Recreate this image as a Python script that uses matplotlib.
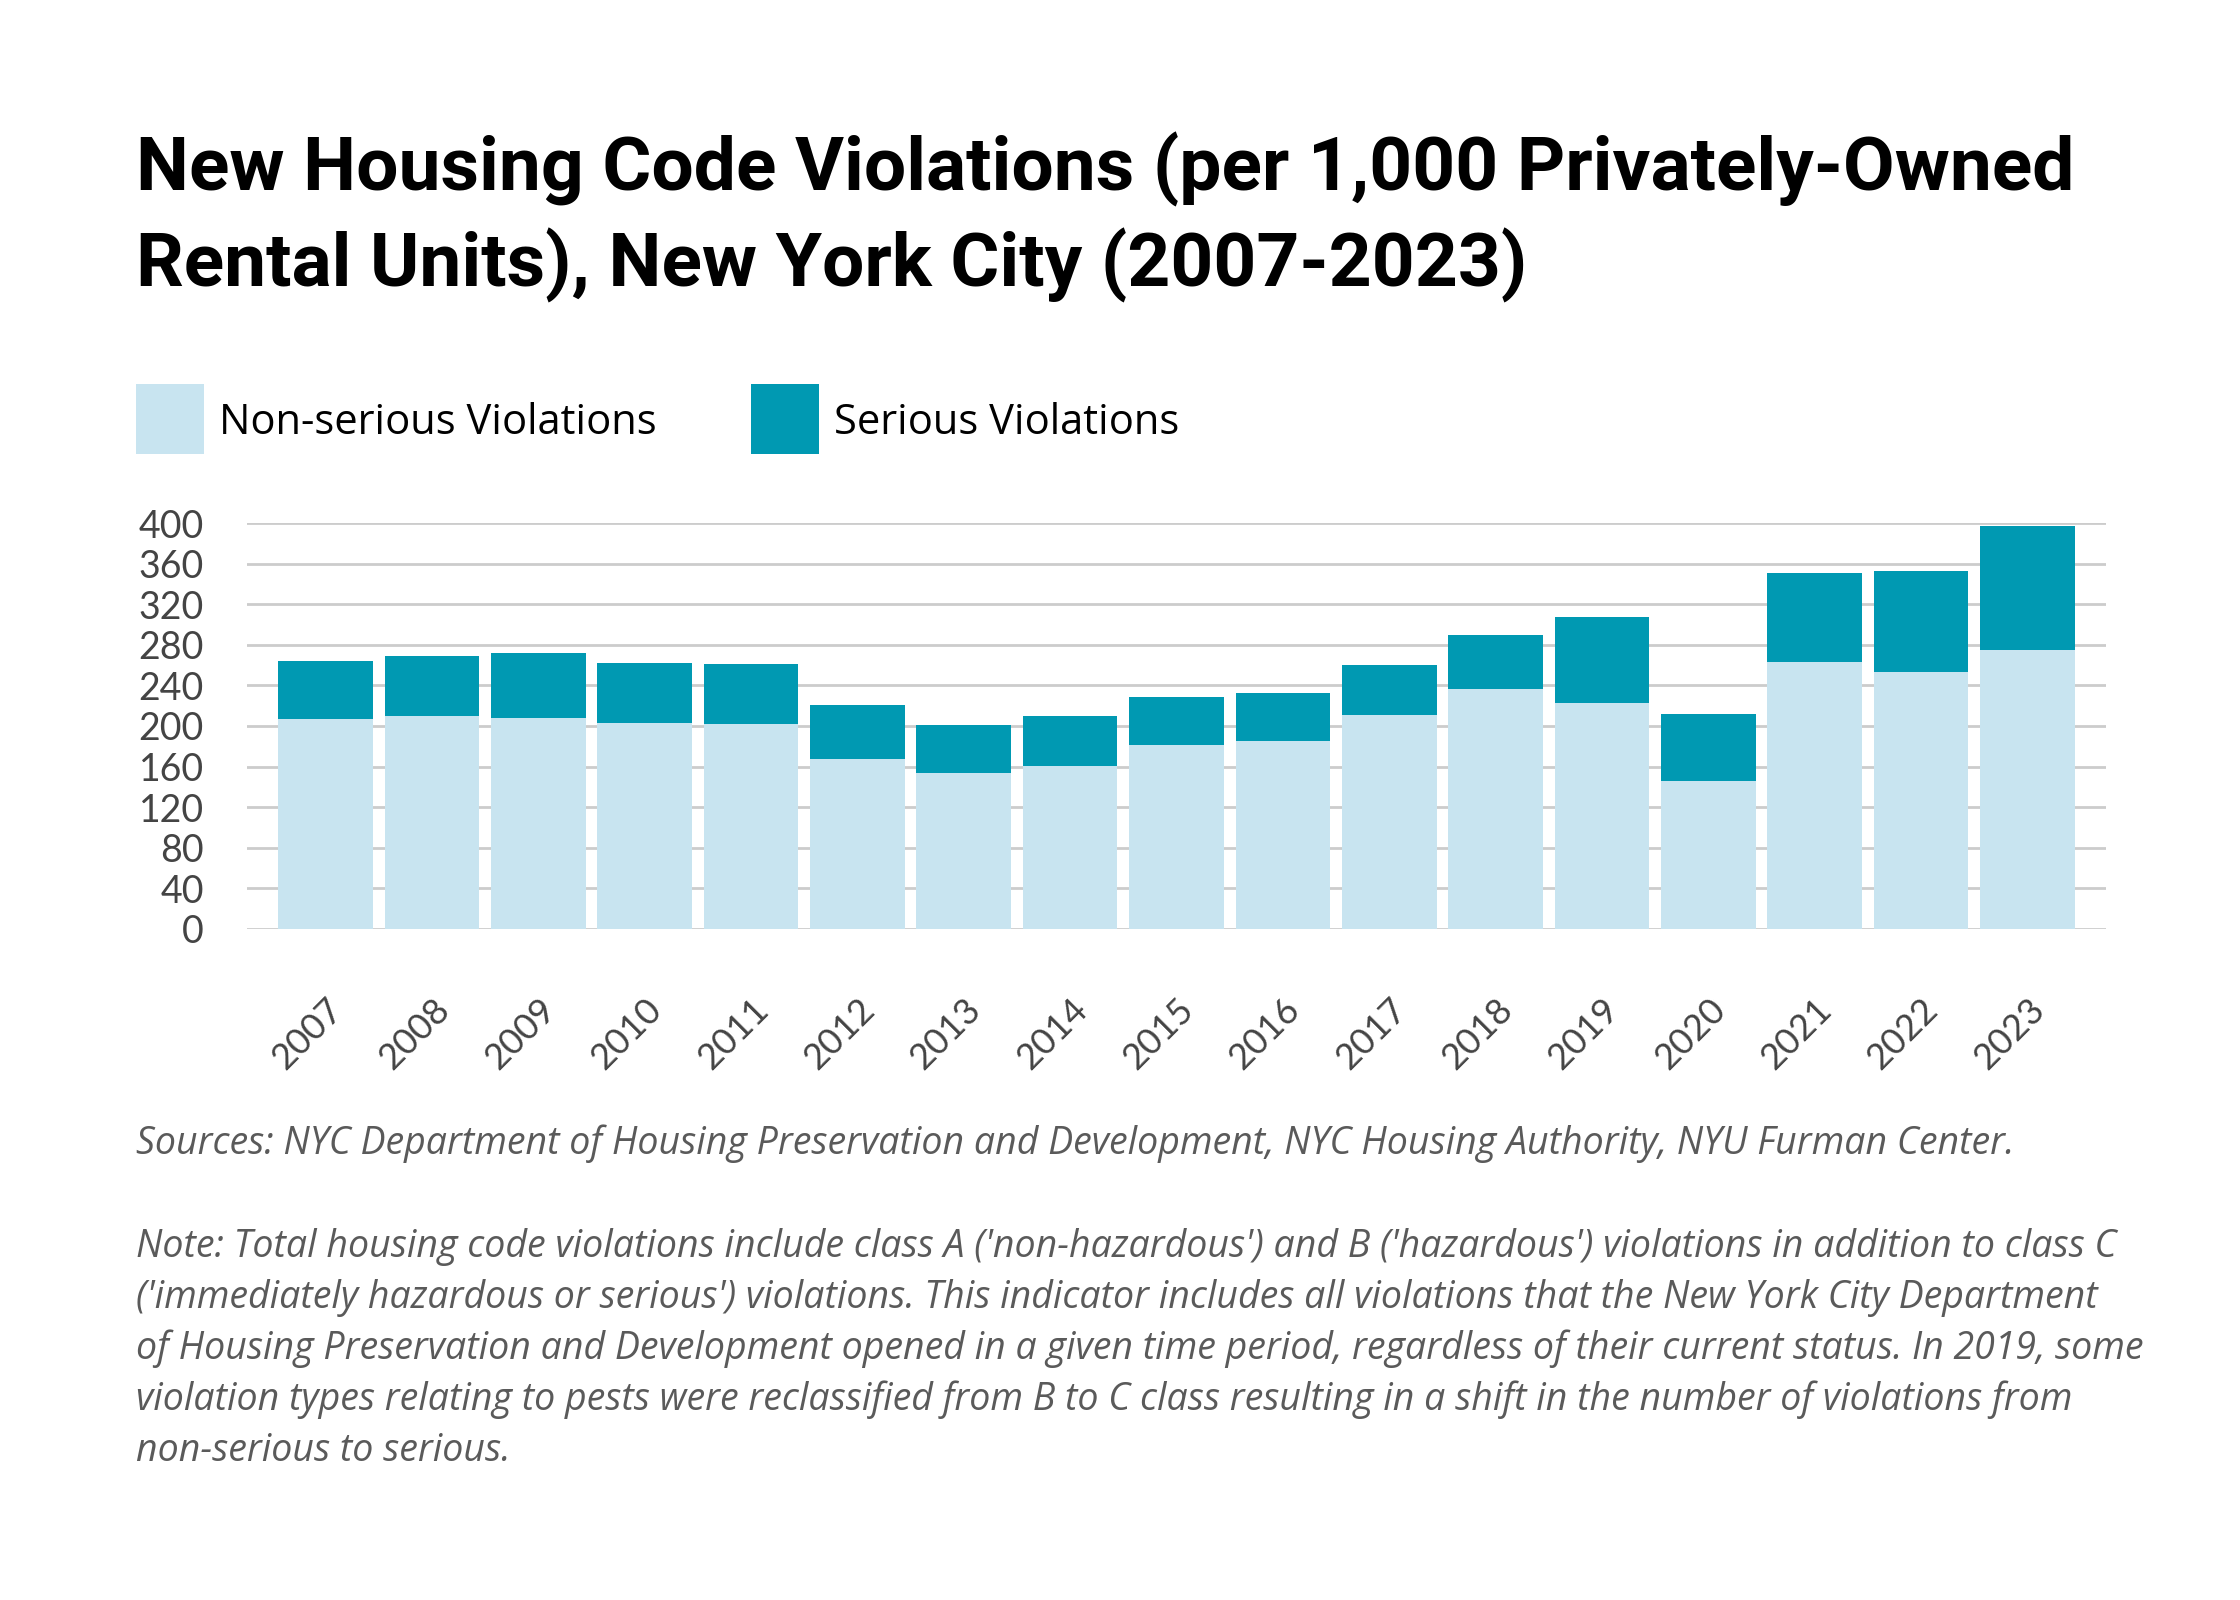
import matplotlib
matplotlib.use("Agg")
import matplotlib.pyplot as plt
import numpy as np

# data
years = [str(y) for y in range(2007, 2024)]
non_serious = [207, 210, 208, 202.5, 201.5, 167, 153.5, 161, 181, 185.5, 211, 236.5, 222.5, 145.5, 263, 253, 274.5]
totals = [264, 269, 272, 262, 261, 220.5, 201, 209.5, 228.5, 233, 260.5, 290, 307.5, 211.5, 351, 352.5, 397.5]
serious = [t - n for t, n in zip(totals, non_serious)]
yticks = [0, 40, 80, 120, 160, 200, 240, 280, 320, 360, 400]

LIGHT = '#c8e4f0'
DARK = '#0099b2'
W, H = 2240, 1600


def fx(px):
    return px / W


def fy(py):
    return 1 - py / H


fig = plt.figure(figsize=(22.4, 16), dpi=100)
fig.patch.set_facecolor('white')

# title, one text per line so baselines can be placed
title_lines = ["New Housing Code Violations (per 1,000 Privately-Owned",
               "Rental Units), New York City (2007-2023)"]
for line, base in zip(title_lines, [190, 286]):
    fig.text(fx(136), fy(base), line, fontsize=54, fontweight='bold', family='Roboto',
             ha='left', va='baseline', color='black')

# legend
for x0, lab, col in [(136, 'Non-serious Violations', LIGHT), (751, 'Serious Violations', DARK)]:
    fig.patches.append(plt.Rectangle((fx(x0), fy(454)), fx(68), 70 / H, transform=fig.transFigure,
                                     facecolor=col, edgecolor='none'))
    fig.text(fx(x0 + 83), fy(434), lab, fontsize=30, family='Open Sans', ha='left',
             va='baseline', color='black')

# chart
ax = fig.add_axes([fx(247), fy(929), fx(2106 - 247), (929 - 523) / H])
x = np.arange(len(years))
ax.bar(x, non_serious, width=0.89, color=LIGHT, zorder=2)
ax.bar(x, serious, bottom=non_serious, width=0.89, color=DARK, zorder=2)

ax.set_xlim(-0.74, len(years) - 1 + 0.74)
ax.set_ylim(0, 400)
ax.set_yticks(yticks)
ax.set_yticklabels([str(v) for v in yticks], fontsize=27, family='Lato', color='#444444')
ax.yaxis.grid(True, color='#cccccc', linewidth=2, zorder=0)
ax.tick_params(axis='y', length=0, pad=31)
ax.tick_params(axis='x', length=0, pad=46)
ax.set_xticks(x)
ax.set_xticklabels(years, rotation=45, ha='right', rotation_mode='anchor',
                   fontsize=26, family='Lato', color='#444444')
for s in ax.spines.values():
    s.set_visible(False)

# footnotes
foot = dict(fontsize=27, family='Open Sans', style='italic', color='#5a5a5a',
            ha='left', va='baseline')
fig.text(fx(136), fy(1154), 'Sources: NYC Department of Housing Preservation and Development, '
         'NYC Housing Authority, NYU Furman Center.', **foot)
note_lines = [
    "Note: Total housing code violations include class A ('non-hazardous') and B ('hazardous') "
    "violations in addition to class C",
    "('immediately hazardous or serious') violations. This indicator includes all violations "
    "that the New York City Department",
    "of Housing Preservation and Development opened in a given time period, regardless of "
    "their current status. In 2019, some",
    "violation types relating to pests were reclassified from B to C class resulting in a "
    "shift in the number of violations from",
    "non-serious to serious.",
]
for line, base in zip(note_lines, [1257, 1308, 1359, 1410, 1461]):
    fig.text(fx(136), fy(base), line, **foot)

fig.savefig('out.png', dpi=100, facecolor='white')
